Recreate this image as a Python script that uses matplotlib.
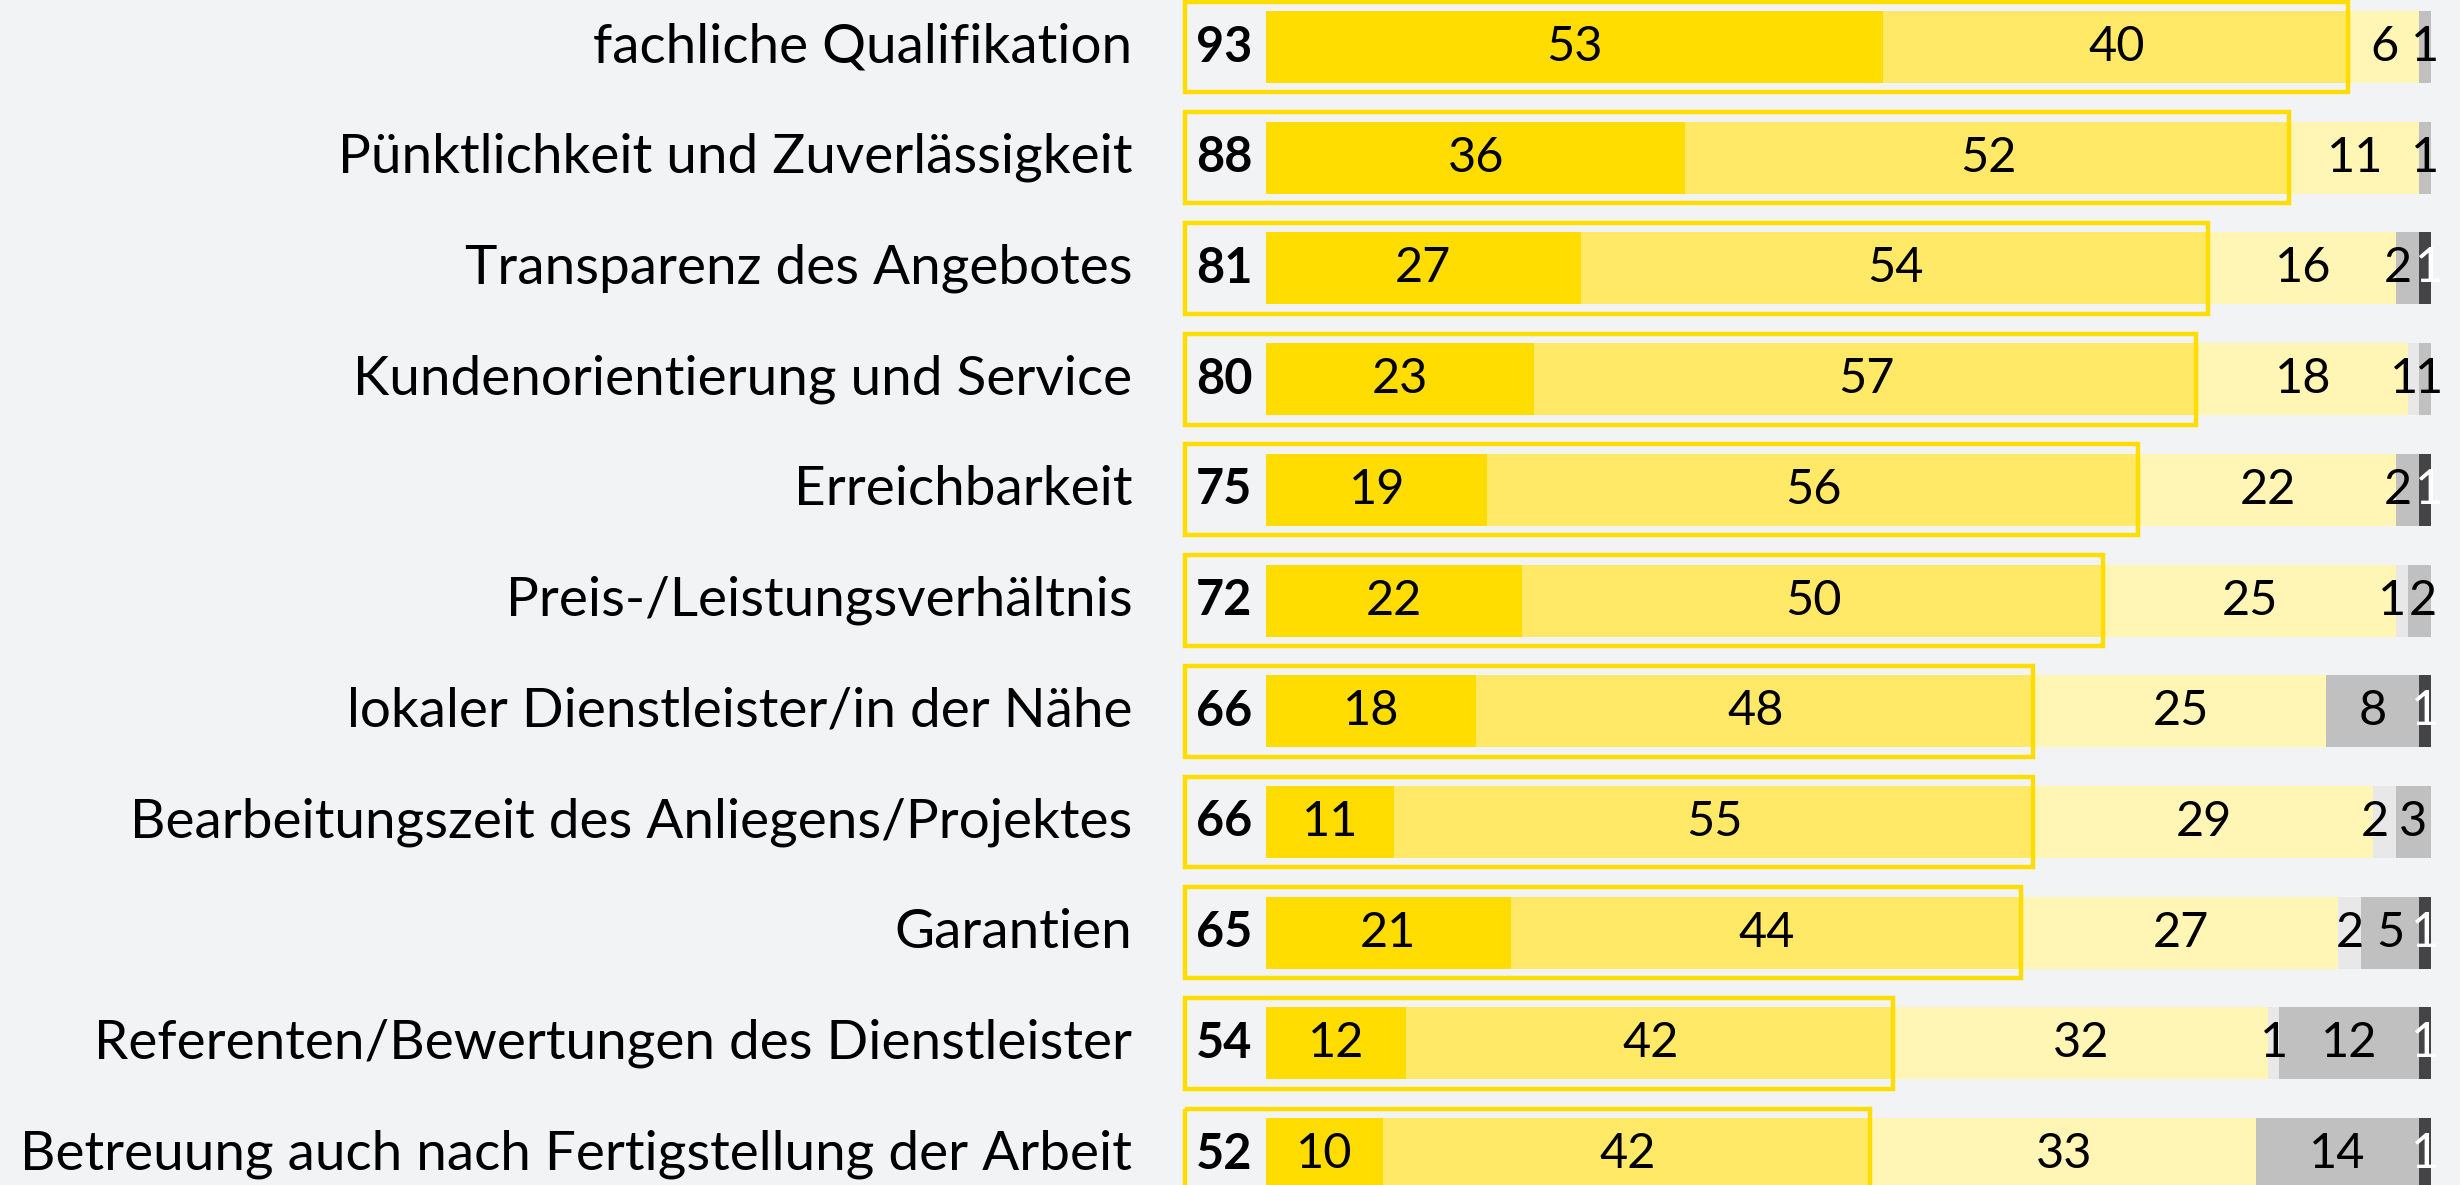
import matplotlib.pyplot as plt
from matplotlib.patches import Rectangle

kategorien = [
    "fachliche Qualifikation",
    "Pünktlichkeit und Zuverlässigkeit",
    "Transparenz des Angebotes",
    "Kundenorientierung und Service",
    "Erreichbarkeit",
    "Preis-/Leistungsverhältnis",
    "lokaler Dienstleister/in der Nähe",
    "Bearbeitungszeit des Anliegens/Projektes",
    "Garantien",
    "Referenten/Bewertungen des Dienstleister",
    "Betreuung auch nach Fertigstellung der Arbeit",
]
sehr_wichtig = [53, 36, 27, 23, 19, 22, 18, 11, 21, 12, 10]
wichtig = [40, 52, 54, 57, 56, 50, 48, 55, 44, 42, 42]
weniger_wichtig = [6, 11, 16, 18, 22, 25, 25, 29, 27, 32, 33]
unwichtig = [0, 0, 0, 1, 0, 1, 0, 2, 2, 1, 0]
weiss_nicht = [1, 1, 2, 1, 2, 2, 8, 3, 5, 12, 14]
keine_angabe = [0, 0, 1, 0, 1, 0, 1, 0, 1, 1, 1]
gesamt = [93, 88, 81, 80, 75, 72, 66, 66, 65, 54, 52]

serien = [sehr_wichtig, wichtig, weniger_wichtig, unwichtig, weiss_nicht, keine_angabe]
farben = ["#FFDD00", "#FFE966", "#FFF5B5", "#E8E8E8", "#C0C0C0", "#444446"]
textfarben = ["black", "black", "black", "black", "black", "white"]

hg = "#F2F3F5"
schrift = "Lato"

fig = plt.figure(figsize=(24.6, 11.85), dpi=100, facecolor=hg)
ax = fig.add_axes([0, 0, 1, 1])
ax.set_facecolor(hg)

y = list(range(len(kategorien)))
links = [0] * len(kategorien)
for s, (werte, farbe, tf) in enumerate(zip(serien, farben, textfarben)):
    ax.barh(y, werte, left=links, height=0.65, color=farbe, linewidth=0)
    for i, w in enumerate(werte):
        if w > 0:
            xpos = links[i] + w / 2
            # kleine Nachbarsegmente etwas auseinanderziehen
            if w <= 2 and s < 5 and 0 < serien[s + 1][i] <= 3:
                xpos -= 0.8
            elif w <= 2 and s > 2 and 0 < serien[s - 1][i] <= 2:
                xpos += 0.35
            ax.text(xpos, i, str(w), ha="center", va="center",
                    fontsize=35, color=tf, family=schrift)
    links = [a + b for a, b in zip(links, werte)]

# Rahmen um Top-2 Summe
for i, g in enumerate(gesamt):
    ax.add_patch(Rectangle((-7.0, i - 0.41), g + 6.85, 0.82, fill=False,
                           edgecolor="#FFDD00", linewidth=3.2))
    ax.text(-6.0, i, str(g), ha="left", va="center", fontsize=35,
            fontweight="bold", family=schrift)
    ax.text(-11.5, i, kategorien[i], ha="right", va="center", fontsize=39.5,
            family=schrift)

ax.set_xlim(-108.7, 102.5)
ax.set_ylim(10.28, -0.425)
ax.axis("off")

fig.savefig("out.png", dpi=100, facecolor=hg)
